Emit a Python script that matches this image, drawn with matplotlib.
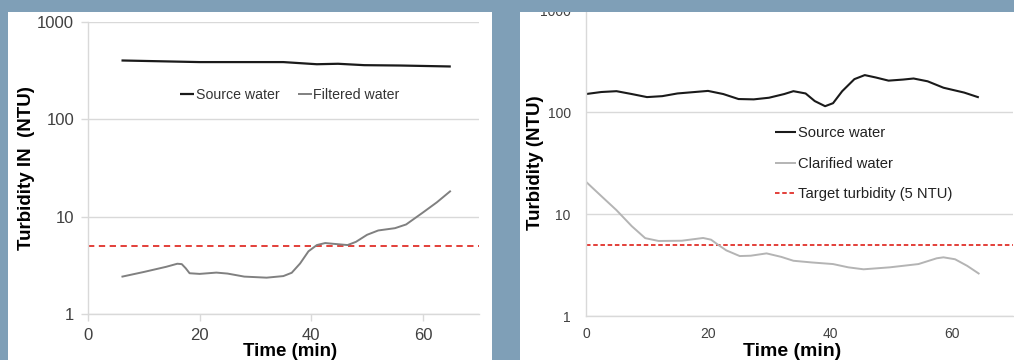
import matplotlib
matplotlib.use("Agg")
import matplotlib.pyplot as plt
from matplotlib.patches import Rectangle

plt.rcParams['font.family'] = ['Liberation Sans', 'DejaVu Sans']

# ---------------- data ----------------
left_src_t = [6, 20, 35, 41, 44.8, 49.5, 56, 65]
left_src_v = [400, 385, 385, 366, 370, 358, 355, 347]

left_filt_t = [6, 10, 14, 16, 16.8, 17.5, 18.2, 20, 23, 25, 28, 32, 35, 36.5, 38, 39.5,
               41, 42.5, 44, 46.5, 48, 50, 52, 55, 57, 60, 62.5, 65]
left_filt_v = [2.41, 2.7, 3.05, 3.28, 3.25, 2.95, 2.62, 2.58, 2.66, 2.6, 2.42, 2.36, 2.45, 2.65, 3.3, 4.4,
               5.1, 5.35, 5.25, 5.1, 5.5, 6.5, 7.2, 7.6, 8.3, 11, 14, 18.4]

right_src_t = [0, 2.5, 5, 7.5, 10, 12.5, 15, 20, 22.5, 25, 27.5, 30, 32.5, 34, 36, 37.5, 39.2,
               40.5, 42, 44, 45.7, 47.5, 49.6, 52, 53.7, 56, 58.6, 62, 64.4]
right_src_v = [150, 157, 160, 150, 140, 143, 152, 161, 150, 134, 133, 138, 150, 160, 152, 128, 114,
               122, 160, 210, 230, 218, 203, 208, 213, 200, 173, 155, 139]

right_clar_t = [0, 2.5, 5, 7.5, 9.7, 11.9, 15.7, 19.2, 20.5, 21.7, 23, 25.2, 27, 29.6, 32, 34, 37,
                40.5, 43, 45.5, 49.8, 54.5, 57.5, 58.6, 60.5, 62.5, 64.5]
right_clar_v = [20.7, 15, 10.9, 7.6, 5.8, 5.44, 5.47, 5.82, 5.6, 4.97, 4.4, 3.87, 3.9, 4.11, 3.8, 3.48, 3.35,
                3.23, 3.0, 2.87, 3.0, 3.23, 3.68, 3.76, 3.6, 3.1, 2.58]

target = 5
x_ticks = [0, 20, 40, 60]
y_ticks = [1, 10, 100, 1000]
y_ticklabels = ['1', '10', '100', '1000']

# ---------------- figure ----------------
W, H = 1014, 360
fig = plt.figure(figsize=(W / 100, H / 100), dpi=100, facecolor='#7f9fb7')

def px_rect(x0, y0, x1, y1, **kw):
    return Rectangle((x0 / W, 1 - y1 / H), (x1 - x0) / W, (y1 - y0) / H,
                     transform=fig.transFigure, **kw)

fig.patches.append(px_rect(8, 12, 492, 360, facecolor='white', edgecolor='none', zorder=-2))
fig.patches.append(px_rect(520, 12, 1014, 360, facecolor='white', edgecolor='none', zorder=-2))

def px_axes(x0, ytop, x1, ybot):
    return fig.add_axes([x0 / W, 1 - ybot / H, (x1 - x0) / W, (ybot - ytop) / H])

grid_c = '#d9d9d9'
tick_c = '#404040'

def style(ax, fs, pad_y, pad_x, ticklen):
    ax.set_facecolor('none')
    ax.set_yscale('log')
    ax.set_xlim(0, 70)
    ax.set_ylim(1, 1000)
    ax.set_xticks(x_ticks)
    ax.set_yticks(y_ticks)
    ax.set_yticklabels(y_ticklabels)
    ax.yaxis.set_minor_locator(matplotlib.ticker.NullLocator())
    for s in ['top', 'right']:
        ax.spines[s].set_visible(False)
    for s in ['left', 'bottom']:
        ax.spines[s].set_color(grid_c)
        ax.spines[s].set_linewidth(1.0)
    ax.grid(axis='y', color=grid_c, linewidth=1.0)
    ax.set_axisbelow(True)
    ax.tick_params(axis='both', colors=grid_c, labelcolor=tick_c, labelsize=fs,
                   length=ticklen, width=1.0, direction='out')
    ax.tick_params(axis='y', pad=pad_y)
    ax.tick_params(axis='x', pad=pad_x)

line_kw = dict(solid_joinstyle='round', solid_capstyle='butt')

# ---------------- left panel ----------------
axL = px_axes(88, 21.7, 478.7, 314)
style(axL, 12, 5, 5, 5)
axL.plot(left_src_t, left_src_v, color='#1a1a1a', linewidth=1.6, label='Source water', **line_kw)
axL.plot(left_filt_t, left_filt_v, color='#808080', linewidth=1.4, label='Filtered water', **line_kw)
axL.axhline(target, color='#e0302a', linewidth=1.3, linestyle=(0, (3.5, 2.5)), zorder=1)
axL.set_xlabel('Time (min)', fontsize=13.5, fontweight='bold', va='center')
axL.xaxis.set_label_coords(0.517, -0.1266)
axL.set_ylabel('Turbidity IN  (NTU)', fontsize=13.5, fontweight='bold', va='center')
axL.yaxis.set_label_coords(-0.157, 0.5)
axL.legend(loc='center', bbox_to_anchor=(0.517, 0.749), ncol=2, frameon=False,
           fontsize=10.2, handlelength=1.0, handletextpad=0.1, columnspacing=1.3,
           borderpad=0, borderaxespad=0, labelcolor='#333333')

# ---------------- right panel ----------------
axR = px_axes(586, 10, 1013, 316)
style(axR, 10, 11, 8, 0)
axR.plot(right_src_t, right_src_v, color='#1a1a1a', linewidth=1.5, label='Source water', **line_kw)
axR.plot(right_clar_t, right_clar_v, color='#b4b4b4', linewidth=1.4, label='Clarified water', **line_kw)
axR.axhline(target, color='#e0302a', linewidth=1.3, linestyle=(0, (2.5, 1.5)), zorder=1,
            label='Target turbidity (5 NTU)')
axR.set_xlabel('Time (min)', fontsize=14, fontweight='bold', va='center')
axR.xaxis.set_label_coords(0.4824, -0.1165)
axR.set_ylabel('Turbidity (NTU)', fontsize=13.5, fontweight='bold', va='center')
axR.yaxis.set_label_coords(-0.119, 0.5)
axR.legend(loc='center left', bbox_to_anchor=(0.4426, 0.497), ncol=1, frameon=False,
           fontsize=10.6, handlelength=1.45, handletextpad=0.1, labelspacing=1.12,
           borderpad=0, borderaxespad=0, labelcolor='#222222')

# top strip clipping the panels
fig.patches.append(px_rect(0, 0, W, 12, facecolor='#7f9fb7', edgecolor='none', zorder=10))

fig.savefig('out.png', dpi=100, facecolor=fig.get_facecolor())
